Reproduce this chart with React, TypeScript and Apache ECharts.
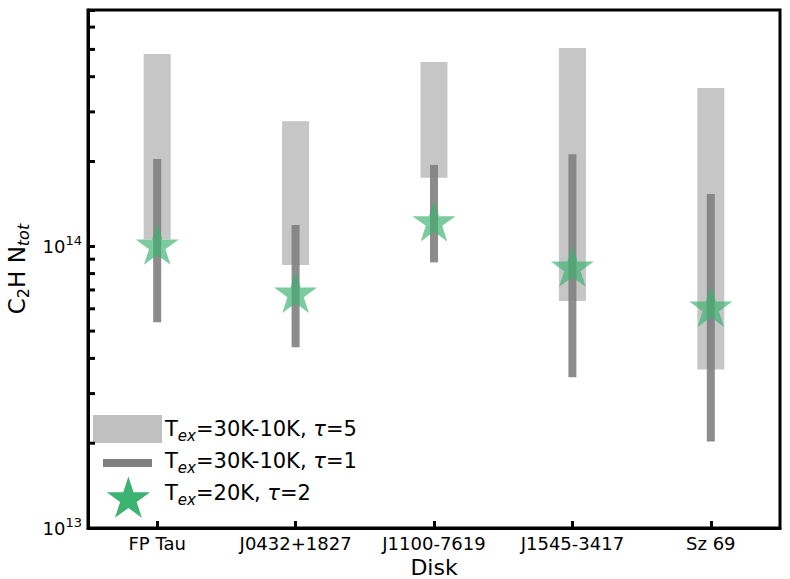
import React, { useEffect, useRef } from "react";
import * as echarts from "echarts";

const disks = ["FP Tau", "J0432+1827", "J1100-7619", "J1545-3417", "Sz 69"];
const tau5Low = [1.06e14, 8.58e13, 1.75e14, 6.39e13, 3.65e13];
const tau5High = [4.82e14, 2.78e14, 4.51e14, 5.06e14, 3.65e14];
const tau1Low = [5.38e13, 4.38e13, 8.77e13, 3.43e13, 2.03e13];
const tau1High = [2.04e14, 1.19e14, 1.945e14, 2.12e14, 1.535e14];
const tau2Value = [1.0e14, 6.75e13, 1.21e14, 8.35e13, 6.02e13];
const yMin = 1e13;
const yMax = 6.9e14;
const minorTicks = [2e13, 3e13, 4e13, 5e13, 6e13, 7e13, 8e13, 9e13, 2e14, 3e14, 4e14, 5e14, 6e14];
const legendLabels = [
  "{t|T}{sub|ex}{t|=30K-10K, }{it|τ}{t|=5}",
  "{t|T}{sub|ex}{t|=30K-10K, }{it|τ}{t|=1}",
  "{t|T}{sub|ex}{t|=20K, }{it|τ}{t|=2}",
];

const FONT = "DejaVu Sans";

function starPoints(cx: number, cy: number, R: number): number[][] {
  const pts: number[][] = [];
  for (let i = 0; i < 10; i++) {
    const a = ((-90 + i * 36) * Math.PI) / 180;
    const r = i % 2 === 0 ? R : R * 0.381966;
    pts.push([cx + r * Math.cos(a), cy + r * Math.sin(a)]);
  }
  return pts;
}

function starPath(): string {
  const pts = starPoints(50, 50, 50);
  return "path://M" + pts.map((p) => p[0].toFixed(3) + " " + p[1].toFixed(3)).join(" L") + " Z";
}

export default function App() {
  const ref = useRef<HTMLDivElement>(null);
  useEffect(() => {
    if (!ref.current) return;
    const chart = echarts.init(ref.current, null, { renderer: "svg" });
    const rangeBar = (width: number, fill: string) => (params: any, api: any) => {
      const x = api.value(0);
      const lo = api.coord([x, api.value(1)]);
      const hi = api.coord([x, api.value(2)]);
      return {
        type: "rect",
        shape: { x: lo[0] - width / 2, y: hi[1], width, height: lo[1] - hi[1] },
        style: { fill },
      };
    };
    const labelRich = {
      t: { fontFamily: FONT, fontSize: 21, color: "#000", lineHeight: 28 },
      it: { fontFamily: FONT, fontSize: 21, color: "#000", fontStyle: "italic", lineHeight: 28 },
      sub: { fontFamily: FONT, fontSize: 15, color: "#000", fontStyle: "italic", lineHeight: 15, verticalAlign: "bottom" },
    };
    const legendTextY = [429, 461, 493];
    const option: any = {
      animation: false,
      backgroundColor: "#fff",
      grid: {
        left: 88,
        right: 10,
        top: 10,
        bottom: 51,
        show: true,
        borderColor: "#000",
        borderWidth: 3,
        containLabel: false,
        outerBoundsMode: "none",
      },
      xAxis: {
        type: "category",
        data: disks,
        name: "Disk",
        nameLocation: "middle",
        nameGap: 22,
        nameTextStyle: { fontFamily: FONT, fontSize: 22, color: "#000", lineHeight: 22 },
        axisLine: { lineStyle: { color: "#000", width: 3 } },
        axisTick: { show: true, alignWithLabel: true, inside: true, length: 7, lineStyle: { color: "#000", width: 3 } },
        axisLabel: { fontFamily: FONT, fontSize: 18, color: "#000", margin: 6, interval: 0, hideOverlap: false },
        splitLine: { show: false },
      },
      yAxis: {
        type: "log",
        logBase: 10,
        min: yMin,
        max: yMax,
        name: "{a|C}{s|2}{a|H N}{si|tot}",
        nameLocation: "middle",
        nameGap: 52,
        nameTextStyle: {
          rich: {
            a: { fontFamily: FONT, fontSize: 23, color: "#000", lineHeight: 30 },
            s: { fontFamily: FONT, fontSize: 16, color: "#000", lineHeight: 16, verticalAlign: "bottom" },
            si: { fontFamily: FONT, fontSize: 16, color: "#000", fontStyle: "italic", lineHeight: 16, verticalAlign: "bottom" },
          },
        },
        axisLine: { show: true, lineStyle: { color: "#000", width: 3 } },
        axisTick: { show: true, inside: true, length: 7, lineStyle: { color: "#000", width: 3 } },
        axisLabel: {
          margin: 6,
          formatter: (v: number) => {
            const e = Math.log10(v);
            if (Math.abs(e - Math.round(e)) > 1e-6) return "";
            return "{b|10}{p|" + Math.round(e) + "}";
          },
          rich: {
            b: { fontFamily: FONT, fontSize: 18, color: "#000", lineHeight: 24 },
            p: { fontFamily: FONT, fontSize: 13, color: "#000", lineHeight: 13, verticalAlign: "top" },
          },
        },
        splitLine: { show: false },
        minorTick: { show: false },
      },
      series: [
        {
          type: "custom",
          name: "tau5",
          renderItem: rangeBar(27, "rgba(192,192,192,0.9)"),
          encode: { x: 0, y: [1, 2] },
          data: disks.map((_, i) => [i, tau5Low[i], tau5High[i]]),
          z: 2,
          silent: true,
        },
        {
          type: "custom",
          name: "tau1",
          renderItem: rangeBar(8, "rgba(128,128,128,0.9)"),
          encode: { x: 0, y: [1, 2] },
          data: disks.map((_, i) => [i, tau1Low[i], tau1High[i]]),
          z: 3,
          silent: true,
        },
        {
          type: "scatter",
          name: "tau2",
          symbol: starPath(),
          symbolSize: [43, 41],
          symbolOffset: [0, -2],
          itemStyle: { color: "rgba(60,179,113,0.85)" },
          data: disks.map((_, i) => [i, tau2Value[i]]),
          z: 4,
          silent: true,
        },
        {
          type: "custom",
          name: "minorTicks",
          renderItem: (params: any, api: any) => {
            const y = api.coord([0, api.value(1)])[1];
            const x0 = params.coordSys.x;
            return {
              type: "line",
              shape: { x1: x0, y1: y, x2: x0 + 7, y2: y },
              style: { stroke: "#000", lineWidth: 3 },
            };
          },
          encode: { x: 0, y: 1 },
          data: minorTicks.map((v) => [0, v]),
          z: 10,
          silent: true,
          clip: false,
        },
      ],
      graphic: [
        { type: "rect", shape: { x: 93, y: 415, width: 69, height: 28 }, style: { fill: "#c0c0c0" } },
        { type: "rect", shape: { x: 103, y: 459, width: 49, height: 8 }, style: { fill: "#808080" } },
        { type: "polygon", shape: { points: starPoints(128.4, 499.4, 22.8) }, style: { fill: "#3cb371" } },
        ...legendLabels.map((txt, i) => ({
          type: "text",
          x: 165,
          y: legendTextY[i],
          style: { text: txt, rich: labelRich, verticalAlign: "middle", align: "left" },
        })),
      ],
    };
    chart.setOption(option);
    return () => chart.dispose();
  }, []);
  return <div ref={ref} style={{ position: "fixed", left: 0, top: 0, width: 790, height: 579 }} />;
}
